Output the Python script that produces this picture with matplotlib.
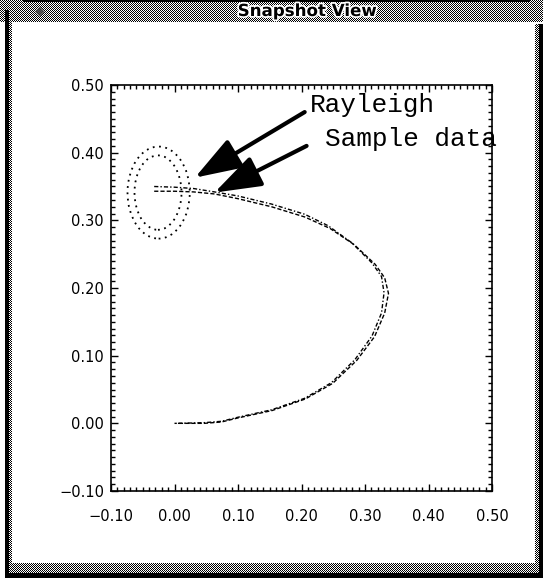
import numpy as np
import matplotlib.pyplot as plt
import matplotlib.patheffects as pe
from matplotlib.patches import Ellipse
from matplotlib.ticker import MultipleLocator, FuncFormatter

# Rayleigh model trajectory
rayleigh_x = [-0.032, 0.000, 0.030, 0.063, 0.100, 0.153, 0.205, 0.242, 0.279, 0.311,
              0.326, 0.330, 0.326, 0.311, 0.284, 0.247, 0.205, 0.153, 0.100, 0.074,
              0.047, 0.005]
rayleigh_y = [0.350, 0.349, 0.347, 0.342, 0.336, 0.324, 0.309, 0.292, 0.267, 0.237,
              0.217, 0.193, 0.163, 0.129, 0.094, 0.060, 0.037, 0.020, 0.009, 0.003,
              0.001, 0.000]

# measured trajectory
sample_x = [-0.032, 0.000, 0.030, 0.063, 0.100, 0.153, 0.205, 0.245, 0.283, 0.316,
            0.331, 0.337, 0.331, 0.315, 0.287, 0.249, 0.206, 0.154, 0.100, 0.074,
            0.047, 0.000]
sample_y = [0.343, 0.343, 0.342, 0.339, 0.332, 0.320, 0.305, 0.288, 0.264, 0.235,
            0.215, 0.192, 0.163, 0.128, 0.093, 0.059, 0.036, 0.019, 0.008, 0.002,
            0.000, 0.000]

# contours around the starting point
contour_cx = [-0.025, -0.026]
contour_cy = [0.341, 0.341]
contour_w = [0.098, 0.074]
contour_h = [0.136, 0.110]

labels = ['Rayleigh', 'Sample data']
arrow_tail = [(0.205, 0.460), (0.208, 0.410)]
arrow_head = [(0.032, 0.363), (0.063, 0.341)]
ticks = [-0.10, 0.00, 0.10, 0.20, 0.30, 0.40, 0.50]

W, H = 543, 580
fig = plt.figure(figsize=(W / 100, H / 100), dpi=100)
fig.patch.set_facecolor('white')

# window decoration: dithered title bar and borders
yy, xx = np.mgrid[0:H, 0:W]
checker = (xx + yy) % 2 == 0
dither = np.zeros((H, W), bool)
solid = np.zeros((H, W), bool)
dither[0:22, :] = True
solid[0:2, 23:530] = True
solid[10:578, 5:9] = True
dither[22:565, 9:12] = True
dither[24:575, 535:539] = True
solid[24:578, 539:543] = True
dither[563:573, 5:543] = True
solid[573:578, 5:543] = True
frame = np.zeros((H, W, 4))
frame[..., :3] = 1.0
black = solid | (dither & checker)
frame[black, :3] = 0.0
frame[dither | solid, 3] = 1.0
fig.figimage(frame, xo=0, yo=0, origin='upper', zorder=0)

fig.text(307 / W, 1 - 11 / H, 'Snapshot View', ha='center', va='center',
         fontsize=12, fontweight='bold', family='DejaVu Sans',
         path_effects=[pe.withStroke(linewidth=2.5, foreground='white')])
fig.text(40 / W, 1 - 11 / H, '\u25c6', ha='center', va='center', fontsize=9,
         color='0.3')

ax = fig.add_axes([111 / W, 1 - 491 / H, 381 / W, 406 / H])
ax.set_xlim(-0.10, 0.50)
ax.set_ylim(-0.10, 0.50)

ax.plot(rayleigh_x, rayleigh_y, color='black', lw=1.0, linestyle=(0, (3, 1.5, 1, 1.5)))
ax.plot(sample_x, sample_y, color='black', lw=1.0, linestyle=(0, (3, 1.5)))

for cx, cy, w, h in zip(contour_cx, contour_cy, contour_w, contour_h):
    ax.add_patch(Ellipse((cx, cy), w, h, fill=False, color='black', lw=1.3,
                         linestyle=(0, (1, 2.5))))

for tail, head in zip(arrow_tail, arrow_head):
    ax.annotate('', xy=head, xytext=tail,
                arrowprops=dict(arrowstyle='-|>,head_length=1.1,head_width=0.38',
                                mutation_scale=26, lw=3, color='black',
                                shrinkA=0, shrinkB=0))

ax.text(0.2126, 0.470, labels[0], family='Liberation Mono', fontsize=18.8,
        ha='left', va='center')
ax.text(0.2363, 0.420, labels[1], family='Liberation Mono', fontsize=18.8,
        ha='left', va='center')

fmt = FuncFormatter(lambda v, pos: f'{v:.2f}'.replace('-', '\u2212'))
ax.set_xticks(ticks)
ax.set_yticks(ticks)
ax.xaxis.set_minor_locator(MultipleLocator(0.01))
ax.yaxis.set_minor_locator(MultipleLocator(0.01))
ax.xaxis.set_major_formatter(fmt)
ax.yaxis.set_major_formatter(fmt)
ax.tick_params(which='both', direction='in', top=True, right=True, width=1,
               labelsize=10.5, colors='black')
ax.tick_params(which='major', length=5)
ax.tick_params(which='minor', length=3)
ax.tick_params(axis='x', pad=13)
ax.tick_params(axis='y', pad=5)
for s in ax.spines.values():
    s.set_linewidth(1.2)

fig.savefig('out.png', dpi=100)
